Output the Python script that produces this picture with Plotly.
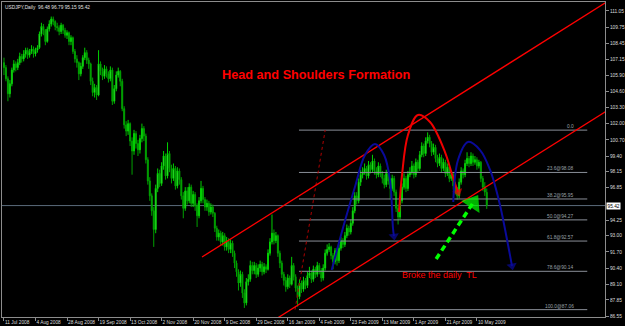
import plotly.graph_objects as go

# ---------------- data ----------------
opens = [106.9,106.5,105.6,104.4,105.2,106.3,106.8,106.5,106.9,107.4,
107.2,107.6,107.9,107.5,107.8,108.0,107.6,107.9,108.1,109.2,
109.8,109.5,108.6,109.6,110.0,110.4,110.2,109.8,109.7,109.4,
109.9,109.5,109.1,109.3,108.6,108.9,107.8,107.2,106.9,106.0,
106.6,107.3,107.7,107.1,106.8,105.4,104.5,104.9,104.3,106.8,
106.2,105.8,106.4,106.0,105.6,106.3,103.8,104.8,105.9,106.2,
105.4,103.2,101.9,101.4,102.0,100.6,99.8,101.2,100.4,99.9,
100.8,101.6,101.0,99.1,97.4,96.2,95.0,93.5,96.8,98.0,
97.2,98.6,99.4,97.8,99.6,98.4,97.6,98.4,97.0,98.2,
97.5,96.2,95.2,96.6,95.8,96.9,95.6,96.3,95.4,94.6,
95.8,96.8,95.9,95.3,95.6,94.9,95.3,94.8,93.6,92.9,
93.2,92.5,93.0,92.1,92.6,91.9,92.4,91.6,90.8,90.1,
89.2,89.9,88.4,87.6,89.3,89.5,90.6,90.2,90.6,89.9,
90.4,90.7,90.1,90.5,90.3,91.6,92.5,93.2,92.6,93.0,
91.6,90.8,89.9,89.4,88.9,89.6,89.1,90.6,89.7,88.8,
88.1,89.2,88.7,89.4,89.0,89.8,90.0,89.5,90.3,89.9,
90.6,90.2,89.6,90.4,91.6,91.9,92.1,91.4,90.9,91.8,
91.0,92.0,92.6,92.3,93.0,93.6,93.3,94.0,95.0,96.2,
95.8,97.3,97.9,98.1,98.4,97.8,98.7,98.3,99.0,98.2,
97.9,98.6,98.0,97.6,97.1,98.0,97.4,96.8,97.6,96.5,
95.2,94.5,95.8,96.9,97.6,96.8,97.9,98.1,98.6,97.9,
98.9,98.4,99.5,100.2,99.6,100.6,100.9,100.4,99.7,100.1,
99.2,98.8,99.3,98.4,98.9,98.0,98.5,97.6,97.9,97.0,
96.6,96.2,97.3,98.2,97.9,98.8,99.2,98.8,99.4,98.9,
99.1,98.6,98.9,97.6,96.9,96.48]

closes = [106.5,105.6,104.4,105.2,106.3,106.8,106.5,106.9,107.4,107.2,
107.6,107.9,107.5,107.8,108.0,107.6,107.9,108.1,109.2,109.8,
109.5,108.6,109.6,110.0,110.4,110.2,109.8,109.7,109.4,109.9,
109.5,109.1,109.3,108.6,108.9,107.8,107.2,106.9,106.0,106.6,
107.3,107.7,107.1,106.8,105.4,104.5,104.9,104.3,106.8,106.2,
105.8,106.4,106.0,105.6,106.3,103.8,104.8,105.9,106.2,105.4,
103.2,101.9,101.4,102.0,100.6,99.8,101.2,100.4,99.9,100.8,
101.6,101.0,99.1,97.4,96.2,95.0,93.5,96.8,98.0,97.2,
98.6,99.4,97.8,99.6,98.4,97.6,98.4,97.0,98.2,97.5,
96.2,95.2,96.6,95.8,96.9,95.6,96.3,95.4,94.6,95.8,
96.8,95.9,95.3,95.6,94.9,95.3,94.8,93.6,92.9,93.2,
92.5,93.0,92.1,92.6,91.9,92.4,91.6,90.8,90.1,89.2,
89.9,88.4,87.6,89.3,89.5,90.6,90.2,90.6,89.9,90.4,
90.7,90.1,90.5,90.3,91.6,92.5,93.2,92.6,93.0,91.6,
90.8,89.9,89.4,88.9,89.6,89.1,90.6,89.7,88.8,88.1,
89.2,88.7,89.4,89.0,89.8,90.0,89.5,90.3,89.9,90.6,
90.2,89.6,90.4,91.6,91.9,92.1,91.4,90.9,91.8,91.0,
92.0,92.6,92.3,93.0,93.6,93.3,94.0,95.0,96.2,95.8,
97.3,97.9,98.1,98.4,97.8,98.7,98.3,99.0,98.2,97.9,
98.6,98.0,97.6,97.1,98.0,97.4,96.8,97.6,96.5,95.2,
94.5,95.8,96.9,97.6,96.8,97.9,98.1,98.6,97.9,98.9,
98.4,99.5,100.2,99.6,100.6,100.9,100.4,99.7,100.1,99.2,
98.8,99.3,98.4,98.9,98.0,98.5,97.6,97.9,97.0,96.6,
96.2,97.3,98.2,97.9,98.8,99.2,98.8,99.4,98.9,99.1,
98.6,98.9,97.6,96.9,96.5,95.42]

highs = [107.3,106.7,105.8,105.5,106.5,107.1,107.0,107.2,107.7,107.6,
107.9,108.1,108.1,108.0,108.3,108.2,108.1,108.3,109.4,110.1,
110.0,109.6,109.8,110.3,110.6,110.6,110.3,110.1,109.9,110.1,
110.0,109.7,109.5,109.4,109.1,109.0,108.0,107.5,107.0,106.9,
107.5,108.1,107.9,107.3,106.9,105.7,105.2,105.1,107.9,107.0,
106.5,106.7,106.6,106.2,106.6,106.5,105.1,106.2,106.5,106.3,
105.6,103.4,102.2,102.3,102.1,100.9,101.5,101.4,100.7,101.1,
102.0,101.8,101.2,99.3,97.7,96.4,95.3,97.1,98.4,98.3,
98.9,99.8,99.6,100.5,99.8,98.7,98.8,98.6,98.5,98.4,
97.7,96.5,96.9,96.9,97.2,97.1,96.6,96.5,95.6,96.1,
97.4,97.0,96.1,95.9,95.8,95.6,95.5,94.9,93.8,93.5,
93.4,93.3,93.2,92.9,92.8,92.7,92.6,91.8,91.0,90.3,
90.2,90.1,88.7,89.6,89.9,91.0,90.9,90.9,90.8,90.7,
91.0,90.9,90.8,90.7,91.9,92.8,94.7,93.5,93.3,93.1,
91.8,91.0,90.1,89.7,89.9,89.8,91.3,90.8,89.9,89.0,
89.5,89.4,89.7,89.6,90.1,90.5,90.2,90.6,90.5,90.9,
90.8,90.4,90.7,91.9,92.3,92.4,92.2,91.6,92.0,92.0,
92.3,92.9,92.8,93.3,93.9,93.8,94.3,95.3,96.5,96.5,
97.6,98.3,98.5,98.8,98.6,99.0,98.9,99.5,99.2,98.5,
98.9,98.8,98.2,97.9,98.3,98.2,97.6,97.9,97.8,96.7,
95.5,96.1,97.2,98.0,97.8,98.2,98.5,99.0,98.8,99.2,
99.1,99.8,100.5,100.4,100.9,101.3,101.1,100.6,100.4,100.3,
99.5,99.6,99.5,99.2,99.1,98.8,98.7,98.2,98.1,97.3,
96.9,97.6,98.5,98.4,99.1,99.7,99.4,99.7,99.6,99.4,
99.3,99.1,99.0,97.8,97.3,96.79]

lows = [105.9,105.4,103.8,104.1,105.0,106.1,106.2,106.3,106.7,106.9,
107.0,107.3,107.2,107.3,107.6,107.3,107.4,107.7,108.0,109.0,
109.1,108.3,108.5,109.4,109.8,109.9,109.5,109.4,109.1,109.2,
109.2,108.9,108.8,108.3,108.3,107.6,106.9,106.5,105.5,105.8,
106.4,107.1,106.8,106.4,105.1,104.2,104.1,103.9,104.2,105.9,
105.5,105.6,105.7,105.3,105.4,103.5,103.6,104.6,105.7,105.0,
103.0,101.6,101.0,101.1,100.2,97.9,99.5,100.0,99.4,99.6,
100.5,100.6,98.8,97.1,95.8,94.6,92.1,93.2,96.5,96.9,
97.0,98.3,97.5,97.6,98.1,97.2,97.4,96.7,96.8,97.1,
95.9,94.4,95.0,95.5,95.6,95.3,95.3,95.0,93.7,94.4,
95.6,95.6,95.0,95.0,94.6,94.7,94.5,93.3,92.6,92.6,
92.2,92.2,91.8,91.8,91.6,91.6,91.3,90.4,89.7,88.6,
88.9,88.0,87.2,87.4,89.0,89.3,89.9,89.9,89.6,89.7,
90.1,89.8,89.9,90.0,90.2,91.4,92.3,92.3,92.4,91.3,
90.4,89.6,89.0,88.5,88.7,88.8,89.0,89.4,88.5,87.3,
87.9,88.4,88.5,88.7,88.8,89.6,89.2,89.3,89.6,89.7,
89.9,89.3,89.4,90.2,91.4,91.7,91.1,90.3,90.7,90.6,
90.8,91.8,92.0,92.1,92.8,93.0,93.1,93.8,94.8,95.5,
95.6,97.0,97.6,97.9,97.5,97.6,98.0,98.1,97.9,97.6,
97.7,97.7,97.2,96.8,96.9,97.1,95.9,96.6,96.2,94.9,
93.9,94.3,95.6,96.7,96.5,96.6,97.7,97.9,97.6,97.7,
98.1,98.2,99.3,99.3,99.4,100.4,100.1,99.4,99.5,98.9,
98.5,98.6,98.1,98.2,97.7,97.8,97.3,97.4,96.7,96.3,
95.9,96.0,97.1,97.6,97.7,98.6,98.5,98.6,98.6,98.7,
98.3,98.4,97.3,96.6,96.2,95.15]

bars = list(range(len(closes)))

date_ticks = [0, 16, 32, 48, 64, 80, 96, 112, 128, 144, 160, 176, 192, 208, 224, 240]
date_labels = ["11 Jul 2008", "4 Aug 2008", "28 Aug 2008", "19 Sep 2008", "13 Oct 2008",
               "2 Nov 2008", "20 Nov 2008", "9 Dec 2008", "29 Dec 2008", "16 Jan 2009",
               "4 Feb 2009", "23 Feb 2009", "13 Mar 2009", "1 Apr 2009", "21 Apr 2009",
               "10 May 2009"]

# 95.55 sits under the current-price box in the reference, so it is not shown
price_ticks = [111.05, 109.75, 108.45, 107.15, 105.90, 104.60, 103.30, 102.00, 100.70,
               99.40, 98.15, 96.85, 94.25, 93.00, 91.70, 90.40, 89.10, 87.85, 86.55]

# Fibonacci retracement
fib_names = ["0.0", "23.6", "38.2", "50.0", "61.8", "78.6", "100.0"]
fib_prices = [101.48, 98.08, 95.95, 94.27, 92.57, 90.14, 87.06]
fib_x = [149.7, 296.0]
fib_label_x = 290.3
fib_trend_x = [147.7, 163.0]
fib_trend_y = [87.06, 101.48]

# channel lines
upper_x = [100.5, 307.0]
upper_y = [91.29, 111.89]
lower_x = [135.0, 307.0]
lower_y = [86.01, 103.14]

# drawn arcs (bar, price)
ls_x = [166.3, 172.2, 178.1, 183.2, 188.3, 192.9, 195.9, 197.4, 197.9]
ls_y = [90.24, 93.72, 96.91, 99.48, 100.37, 99.48, 97.47, 93.62, 92.97]
hd_x = [200.5, 202.0, 205.0, 210.1, 216.2, 223.8, 227.9, 230.4]
hd_y = [94.90, 97.88, 101.09, 102.70, 102.13, 99.72, 97.64, 96.51]
rs_x = [228.0, 230.4, 235.5, 241.6, 246.7, 251.7, 255.8, 257.8]
rs_y = [95.71, 99.08, 100.53, 99.88, 98.28, 95.47, 92.25, 90.57]
gr_x = [219.3, 238.0]
gr_y = [91.13, 95.63]

title_text = "Head and Shoulders Formation"
note_text = "Broke the daily  TL"
header_text = "USDJPY,Daily  96.48 96.79 95.15 95.42"

# ---------------- figure ----------------
FONT = "Arial, Liberation Sans, sans-serif"
GRID = "#8c8c8c"
fig = go.Figure()

fig.add_trace(go.Candlestick(
    x=bars, open=opens, high=highs, low=lows, close=closes,
    increasing=dict(line=dict(color="#00d000", width=1), fillcolor="#a0ffa0"),
    decreasing=dict(line=dict(color="#00a000", width=1), fillcolor="#00c000"),
    whiskerwidth=0, hoverinfo="skip", showlegend=False))

# current price line
fig.add_shape(type="line", xref="paper", x0=0, x1=1, y0=closes[-1], y1=closes[-1],
              line=dict(color="#5a6a7a", width=1), layer="below")

# fib levels
for nm, p in zip(fib_names, fib_prices):
    fig.add_trace(go.Scatter(x=fib_x, y=[p, p], mode="lines",
                             line=dict(color="#8a8f98", width=1),
                             hoverinfo="skip", showlegend=False))
    label = nm if nm == "0.0" else f"{nm}@{p:.2f}"
    fig.add_annotation(x=fib_label_x, y=p, text=label, showarrow=False,
                       xanchor="right", yanchor="bottom", yshift=-1,
                       font=dict(family=FONT, size=4.8, color="#9aa0a8"))

fig.add_trace(go.Scatter(x=fib_trend_x, y=fib_trend_y, mode="lines",
                         line=dict(color="#b00000", width=1, dash="dot"),
                         hoverinfo="skip", showlegend=False))

# channel
for xs, ys in ((upper_x, upper_y), (lower_x, lower_y)):
    fig.add_trace(go.Scatter(x=xs, y=ys, mode="lines",
                             line=dict(color="#ff0000", width=1.3),
                             hoverinfo="skip", showlegend=False))

# arcs with arrow heads
def arc(xs, ys, color, width, size, dash="solid"):
    fig.add_trace(go.Scatter(x=xs, y=ys, mode="lines",
                             line=dict(color=color, width=width, shape="spline", dash=dash),
                             hoverinfo="skip", showlegend=False))
    fig.add_trace(go.Scatter(x=xs[-2:], y=ys[-2:], mode="markers",
                             marker=dict(symbol="triangle-up", size=[0, size], color=color,
                                         angleref="previous", line=dict(width=0)),
                             hoverinfo="skip", showlegend=False))

arc(ls_x, ls_y, "#0a0a9a", 2, 9)
arc(hd_x, hd_y, "#ee0000", 2, 9)
arc(rs_x, rs_y, "#0a0a9a", 2, 9)
arc(gr_x, gr_y, "#00ff00", 3.5, 19, dash="6px,4px")

fig.add_annotation(x=158.4, y=105.87, text=f"<b>{title_text}</b>", showarrow=False,
                   font=dict(family=FONT, size=12.7, color="#ff0000"))
fig.add_annotation(x=201.0, y=89.84, text=note_text, showarrow=False, xanchor="left",
                   font=dict(family=FONT, size=9, color="#ff0000"))
fig.add_annotation(xref="paper", yref="paper", x=0.002, y=0.998, text=header_text,
                   showarrow=False, xanchor="left", yanchor="top",
                   font=dict(family=FONT, size=4.8, color="#e0e0e0"))
fig.add_annotation(xref="paper", x=1.0, y=closes[-1], text=f"{closes[-1]:.2f}",
                   showarrow=False, xanchor="left", xshift=1, bgcolor="#ffffff",
                   borderpad=0.5, font=dict(family=FONT, size=4.8, color="#000000"))

fig.update_layout(
    width=625, height=326, margin=dict(l=2, r=20, t=2, b=9, pad=0),
    paper_bgcolor="#000000", plot_bgcolor="#000000", showlegend=False,
    xaxis=dict(range=[-1.0, 305.0], rangeslider=dict(visible=False), showgrid=False,
               zeroline=False, showline=True, linecolor=GRID, mirror=True, linewidth=1,
               tickmode="array", tickvals=date_ticks, ticktext=date_labels,
               tickangle=0, automargin=False,
               ticks="outside", ticklen=3, tickcolor=GRID, ticklabelposition="outside right",
               tickfont=dict(family=FONT, size=4.8, color="#dcdcdc")),
    yaxis=dict(range=[86.47, 111.77], side="right", showgrid=False, zeroline=False,
               showline=True, linecolor=GRID, mirror=True, linewidth=1, automargin=False,
               tickmode="array", tickvals=price_ticks,
               ticktext=[f"{v:.2f}" for v in price_ticks],
               ticks="outside", ticklen=3, tickcolor=GRID,
               tickfont=dict(family=FONT, size=4.8, color="#dcdcdc")),
)

fig.write_html("out.html")
